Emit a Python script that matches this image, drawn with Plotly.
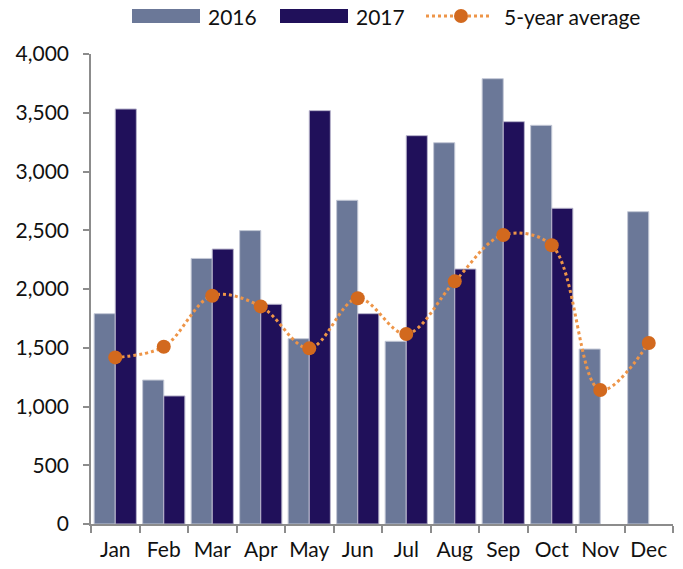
import plotly.graph_objects as go

months = ["Jan", "Feb", "Mar", "Apr", "May", "Jun", "Jul", "Aug", "Sep", "Oct", "Nov", "Dec"]
y2016 = [1790, 1225, 2260, 2497, 1577, 2755, 1555, 3245, 3790, 3393, 1489, 2658]
y2017 = [3532, 1090, 2340, 1870, 3518, 1790, 3305, 2170, 3424, 2687, None, None]
avg5 = [1418, 1509, 1943, 1852, 1495, 1921, 1617, 2065, 2460, 2372, 1140, 1540]
ytick_vals = [0, 500, 1000, 1500, 2000, 2500, 3000, 3500, 4000]
series_names = ["2016", "2017", "5-year average"]

c2016 = "#6B7898"
c2017 = "#20105A"
c_line = "#EE9548"
c_mark = "#D2691E"
font_family = "Lato, 'Open Sans', sans-serif"

W, H = 683, 569
ML, MR, MT, MB = 91, 10, 54, 45
PW, PH = W - ML - MR, H - MT - MB


def px(x):
    return (x - ML) / PW


def py(y):
    return (H - MB - y) / PH


fig = go.Figure()
fig.add_trace(go.Bar(x=months, y=y2016, name=series_names[0],
                     marker=dict(color=c2016, line=dict(color="#C3C8D6", width=1)), showlegend=False))
fig.add_trace(go.Bar(x=months, y=y2017, name=series_names[1],
                     marker=dict(color=c2017, line=dict(color="#B8B4CC", width=1)), showlegend=False))
fig.add_trace(go.Scatter(x=months, y=avg5, name=series_names[2], mode="lines+markers",
                         line=dict(color=c_line, width=3, dash="dot", shape="spline", smoothing=1.0),
                         marker=dict(color=c_mark, size=14), showlegend=False))

# manual legend (pixel positions converted to paper coordinates)
shapes = [
    dict(type="rect", xref="paper", yref="paper", x0=px(132), x1=px(200), y0=py(23), y1=py(9),
         fillcolor=c2016, line=dict(width=0)),
    dict(type="rect", xref="paper", yref="paper", x0=px(280), x1=px(348), y0=py(23), y1=py(9),
         fillcolor=c2017, line=dict(width=0)),
    dict(type="line", xref="paper", yref="paper", x0=px(426), x1=px(492), y0=py(16), y1=py(16),
         line=dict(color=c_line, width=3, dash="dot")),
    dict(type="circle", xref="paper", yref="paper", x0=px(454), x1=px(468), y0=py(23), y1=py(9),
         fillcolor=c_mark, line=dict(width=0)),
]
annotations = [
    dict(xref="paper", yref="paper", x=px(206), y=py(16), text=series_names[0], showarrow=False,
         xanchor="left", yanchor="middle", font=dict(size=21)),
    dict(xref="paper", yref="paper", x=px(354), y=py(16), text=series_names[1], showarrow=False,
         xanchor="left", yanchor="middle", font=dict(size=21)),
    dict(xref="paper", yref="paper", x=px(502), y=py(16), text=series_names[2], showarrow=False,
         xanchor="left", yanchor="middle", font=dict(size=21)),
]

fig.update_layout(
    width=W, height=H,
    margin=dict(l=ML, r=MR, t=MT, b=MB, autoexpand=False),
    paper_bgcolor="white", plot_bgcolor="white",
    font=dict(family=font_family, size=21, color="#111111"),
    barmode="group", bargap=0.13, bargroupgap=0,
    showlegend=False,
    shapes=shapes, annotations=annotations,
)
fig.update_xaxes(range=[-0.5, len(months) - 0.5], showline=True, linecolor="#8C8C8C", linewidth=1.5,
                 ticks="outside", tickson="boundaries", ticklen=7, tickcolor="#8C8C8C", tickwidth=1.5,
                 showgrid=False, ticklabelstandoff=6, tickangle=0, automargin=False)
fig.update_yaxes(range=[0, 4000], tickvals=ytick_vals, tickformat=",", showline=True, linecolor="#8C8C8C",
                 linewidth=1.5, ticks="outside", ticklen=6, tickcolor="#8C8C8C", tickwidth=1.5,
                 showgrid=False, zeroline=False, ticklabelstandoff=10, automargin=False)

fig.write_html("out.html", config={"displayModeBar": False},
               post_script="document.body.style.margin='0px';")
